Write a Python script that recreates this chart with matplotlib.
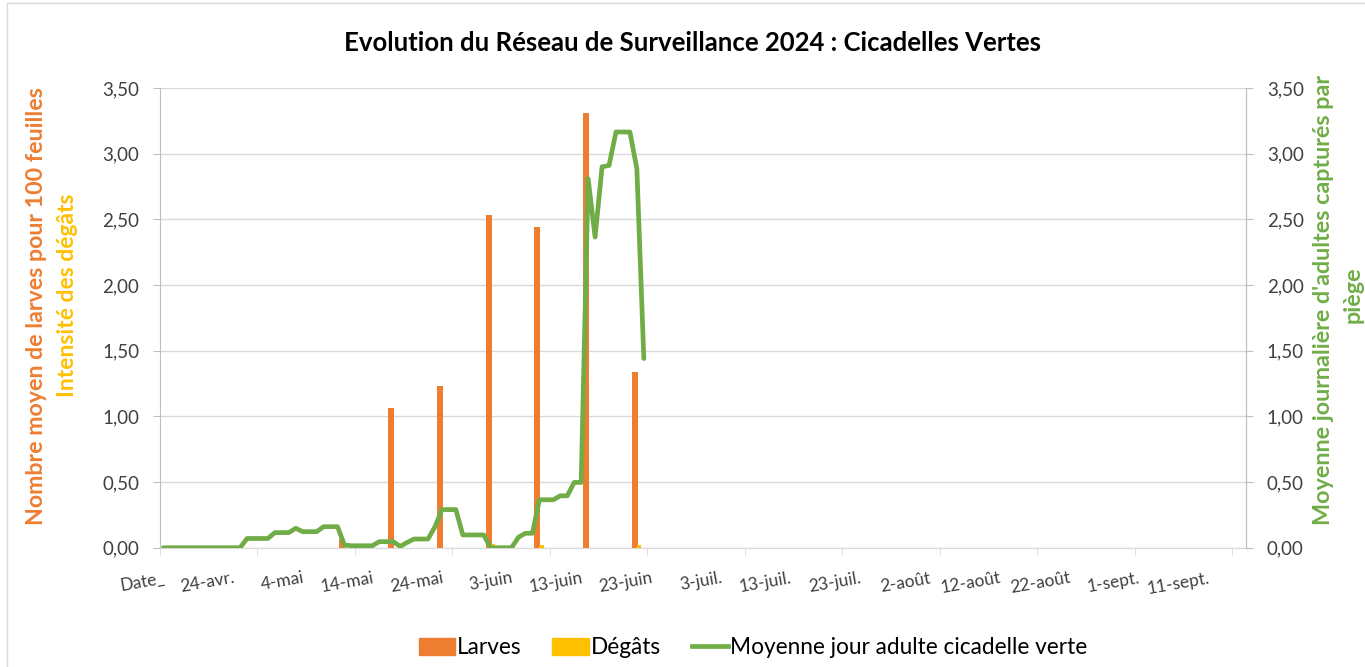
import matplotlib
matplotlib.use("Agg")
import matplotlib.pyplot as plt
from matplotlib.patches import Patch, Rectangle
from matplotlib.lines import Line2D
import numpy as np

plt.rcParams['font.family'] = ['Lato', 'DejaVu Sans']

# ---------------- data ----------------
x_labels = ["Date_", "24-avr.", "4-mai", "14-mai", "24-mai", "3-juin", "13-juin",
            "23-juin", "3-juil.", "13-juil.", "23-juil.", "2-août", "12-août",
            "22-août", "1-sept.", "11-sept."]
n_days = 156            # daily categories on the axis
label_every = 10
tick_every = 14

larves_day = [26, 33, 40, 47, 54, 61, 68]
larves_val = [0.07, 1.06, 1.23, 2.53, 2.44, 3.31, 1.34]

degats_day = [47, 54, 68]
degats_val = [0.03, 0.02, 0.02]

adultes = [0, 0, 0, 0, 0, 0, 0, 0, 0, 0, 0, 0,          # 0-11
           0.07, 0.07, 0.07, 0.07,                       # 12-15
           0.115, 0.115, 0.115, 0.148,                   # 16-19
           0.122, 0.122, 0.122,                          # 20-22
           0.16, 0.16, 0.16,                             # 23-25
           0.02, 0.015, 0.015, 0.015, 0.015,             # 26-30
           0.046, 0.046, 0.046,                          # 31-33
           0.01, 0.04, 0.066, 0.066, 0.066,              # 34-38
           0.16, 0.29, 0.29, 0.29,                       # 39-42
           0.097, 0.097, 0.097, 0.097,                   # 43-46
           0, 0, 0, 0,                                   # 47-50
           0.08, 0.11, 0.11,                             # 51-53
           0.365, 0.365, 0.365, 0.395, 0.395,            # 54-58
           0.497, 0.497,                                 # 59-60
           2.81, 2.365, 2.90, 2.91,                      # 61-64
           3.165, 3.165, 3.165, 2.885, 1.44]             # 65-69

y_ticks = [0, 0.5, 1.0, 1.5, 2.0, 2.5, 3.0, 3.5]

# ---------------- style ----------------
ORANGE = '#ED7D31'
YELLOW = '#FFC000'
GREEN = '#70AD47'
GRID = '#d9d9d9'
AXC = '#bfbfbf'
TXT = '#404040'

W, H = 1365, 667
fig = plt.figure(figsize=(W / 100, H / 100), dpi=100)

# chart border
fig.add_artist(Rectangle((7 / W, -0.1), 1.2, 1 - 3 / H + 0.1, transform=fig.transFigure,
                         fill=False, edgecolor=GRID, lw=1))

L, R, B, T = 160, 1246, 547.7, 88
ax = fig.add_axes([L / W, 1 - B / H, (R - L) / W, (B - T) / H])
ax.set_xlim(-0.5, n_days - 0.5)
ax.set_ylim(0, 3.5)
ax.set_axisbelow(True)
ax.yaxis.grid(True, color=GRID, lw=1)

ax.bar(np.array(larves_day) - 0.31, larves_val, width=0.86, color=ORANGE, zorder=2)
ax.bar(np.array(degats_day) + 0.31, degats_val, width=0.7, color=YELLOW, zorder=3)

ax.spines['top'].set_visible(False)
ax.spines['left'].set_color(AXC)
ax.spines['right'].set_color(AXC)
ax.spines['bottom'].set_color(GRID)

ax.set_yticks(y_ticks)
ax.set_yticklabels([f"{v:.2f}".replace('.', ',') for v in y_ticks])
ax.tick_params(axis='y', length=5, color=AXC, pad=10, labelsize=13.5, labelcolor=TXT)

ax.set_xticks(np.arange(0, len(x_labels) * label_every, label_every))
ax.set_xticklabels(x_labels, rotation=10, ha='right', rotation_mode='anchor')
ax.tick_params(axis='x', which='major', length=0, pad=16, labelsize=12.5, labelcolor=TXT)
ax.set_xticks(np.arange(-0.5, n_days, tick_every), minor=True)
ax.tick_params(axis='x', which='minor', length=5, color=GRID)

ax2 = ax.twinx()
ax2.set_ylim(0, 3.5)
ax2.plot(np.arange(len(adultes)), adultes, color=GREEN, lw=3.4,
         solid_joinstyle='round', solid_capstyle='round', zorder=4)
for s in ['top', 'bottom', 'left']:
    ax2.spines[s].set_visible(False)
ax2.spines['right'].set_color(AXC)
ax2.set_yticks(y_ticks)
ax2.set_yticklabels([f"{v:.2f}".replace('.', ',') for v in y_ticks])
ax2.tick_params(axis='y', length=5, color=AXC, pad=10, labelsize=13.5, labelcolor=TXT)

# titles
fig.text(692 / W, 1 - 43 / H, "Evolution du Réseau de Surveillance 2024 : Cicadelles Vertes",
         ha='center', va='center', fontsize=18.5, fontweight='bold', color='black')
fig.text(37 / W, 1 - 306 / H, "Nombre moyen de larves pour 100 feuilles", rotation=90,
         ha='center', va='center', fontsize=16.7, fontweight='bold', color=ORANGE)
fig.text(68 / W, 1 - 295 / H, "Intensité des dégâts", rotation=90,
         ha='center', va='center', fontsize=16.5, fontweight='bold', color=YELLOW)
fig.text(1324 / W, 1 - 300 / H, "Moyenne journalière d'adultes capturés par", rotation=90,
         ha='center', va='center', fontsize=16.8, fontweight='bold', color=GREEN)
fig.text(1353 / W, 1 - 295 / H, "piège", rotation=90,
         ha='center', va='center', fontsize=16.8, fontweight='bold', color=GREEN)

handles = [Patch(color=ORANGE, label='Larves'),
           Patch(color=YELLOW, label='Dégâts'),
           Line2D([0], [0], color=GREEN, lw=3.4, label='Moyenne jour adulte cicadelle verte')]
fig.legend(handles=handles, loc='center', bbox_to_anchor=(753 / W, 1 - 648 / H), ncol=3,
           frameon=False, fontsize=16.3, handlelength=1.6, handleheight=0.73,
           handletextpad=0.1, columnspacing=1.35, labelcolor='black')

fig.savefig('out.png', dpi=100)
